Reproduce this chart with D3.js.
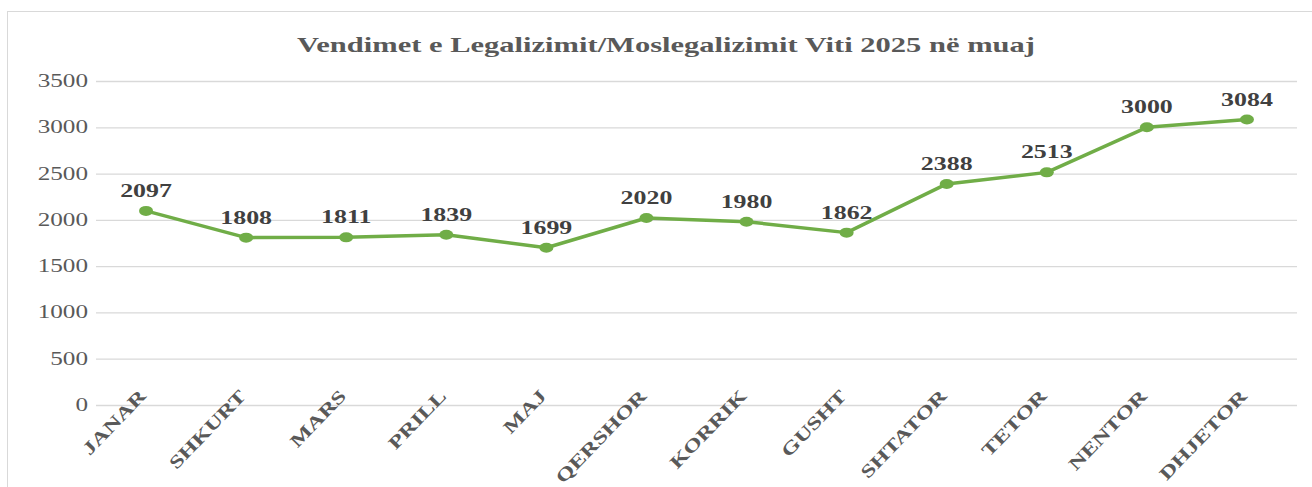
<!DOCTYPE html>
<html>
<head>
<meta charset="utf-8">
<script src="https://cdn.jsdelivr.net/npm/d3@7"></script>
<style>
  body { margin: 0; background: #fff; }
  text { font-family: "Liberation Serif", "Times New Roman", serif; }
</style>
</head>
<body>
<svg id="chart" width="1312" height="487"></svg>
<script>
// months and values
var months = ["JANAR", "SHKURT", "MARS", "PRILL", "MAJ", "QERSHOR",
              "KORRIK", "GUSHT", "SHTATOR", "TETOR", "NENTOR", "DHJETOR"];
var values = [2097, 1808, 1811, 1839, 1699, 2020, 1980, 1862, 2388, 2513, 3000, 3084];
var yTicks = [0, 500, 1000, 1500, 2000, 2500, 3000, 3500];
var title = "Vendimet e Legalizimit/Moslegalizimit Viti 2025 në muaj";

var SX = 1.4; // the picture is stretched wide
var green = "#70ad47";

var svg = d3.select("#chart");

// outer frame
svg.append("rect")
    .attr("x", 7.5).attr("y", 11.5)
    .attr("width", 1320).attr("height", 490)
    .attr("fill", "none").attr("stroke", "#d9d9d9");

var x = d3.scalePoint().domain(months).range([96, 1297]).padding(0.5);
var y = d3.scaleLinear().domain([0, 3500]).range([405, 81]);

function wideText(sel, px, py) {
    return sel.append("g").attr("transform", "translate(" + px + "," + py + ")")
        .append("text").attr("transform", "scale(" + SX + ",1)");
}

// title
wideText(svg, 666, 52)
    .attr("text-anchor", "middle")
    .attr("font-size", 21.8).attr("font-weight", "bold")
    .attr("fill", "#595959")
    .text(title);

// grid + y labels
var yAxis = d3.axisLeft(y).tickValues(yTicks).tickSize(-(1297 - 96)).tickFormat("");
var ga = svg.append("g").attr("transform", "translate(96,0)").call(yAxis);
ga.select(".domain").remove();
ga.selectAll("line").attr("stroke", "#d9d9d9").attr("stroke-width", 1.3);

yTicks.forEach(function(t) {
    wideText(svg, 88, y(t) + 6)
        .attr("text-anchor", "end")
        .attr("font-size", 18)
        .attr("fill", "#595959")
        .text(t);
});

// x labels, rotated
months.forEach(function(m) {
    svg.append("g")
        .attr("transform", "translate(" + (x(m) + 1) + ",397) rotate(-46) scale(1.35,1)")
        .append("text")
        .attr("text-anchor", "end")
        .attr("font-size", 18).attr("font-weight", "bold")
        .attr("fill", "#595959")
        .text(m);
});

// line
var line = d3.line()
    .x(function(d, i) { return x(months[i]); })
    .y(function(d) { return y(d); });

svg.append("path")
    .datum(values)
    .attr("d", line)
    .attr("fill", "none")
    .attr("stroke", green)
    .attr("stroke-width", 3.5)
    .attr("stroke-linejoin", "round");

svg.selectAll("ellipse.dot")
    .data(values)
    .enter().append("ellipse")
    .attr("class", "dot")
    .attr("cx", function(d, i) { return x(months[i]); })
    .attr("cy", function(d) { return y(d); })
    .attr("rx", 7).attr("ry", 5)
    .attr("fill", green);

// data labels
values.forEach(function(v, i) {
    wideText(svg, x(months[i]), y(v) - 14)
        .attr("text-anchor", "middle")
        .attr("font-size", 18.5).attr("font-weight", "bold")
        .attr("fill", "#404040")
        .text(v);
});
</script>
</body>
</html>
